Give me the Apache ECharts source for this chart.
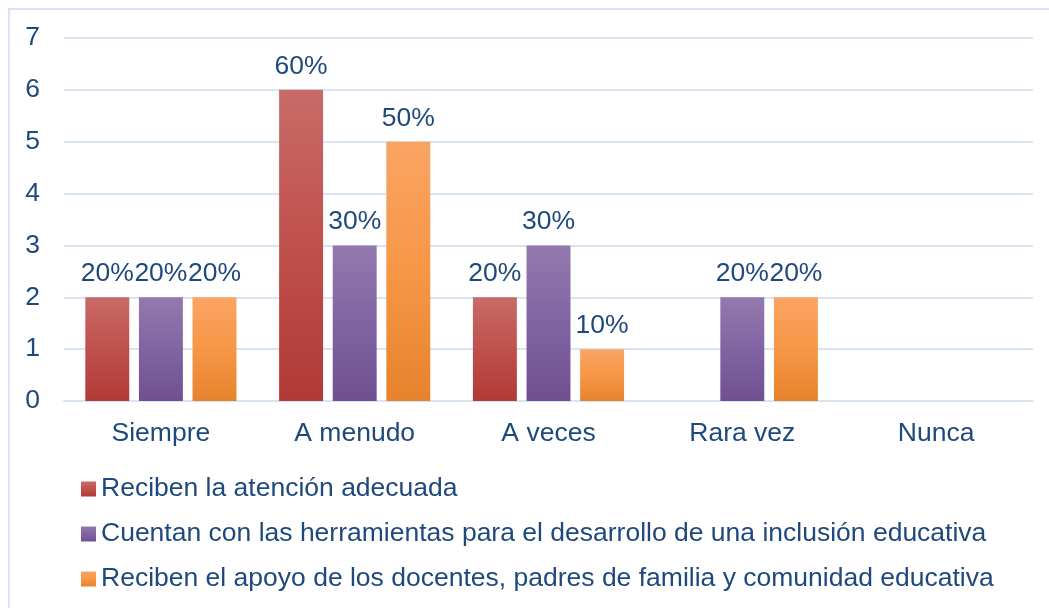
<!DOCTYPE html>
<html>
<head>
<meta charset="utf-8">
<script src="https://cdn.jsdelivr.net/npm/echarts@6/dist/echarts.min.js"></script>
<style>
  html, body { margin: 0; padding: 0; background: #fff; }
  #chart { width: 1049px; height: 608px; }
</style>
</head>
<body>
<div id="chart"></div>
<script>
// categorías y valores (conteos), etiqueta = valor * 10 %
const categories = ['Siempre', 'A menudo', 'A veces', 'Rara vez', 'Nunca'];
const seriesNames = [
  'Reciben la atención adecuada',
  'Cuentan con las herramientas para el desarrollo de una inclusión educativa',
  'Reciben el apoyo de los docentes, padres de familia y comunidad educativa'
];
const atencion = [2, 6, 2, 0, 0];
const herramientas = [2, 3, 3, 2, 0];
const apoyo = [2, 5, 1, 2, 0];
const yTicks = [0, 1, 2, 3, 4, 5, 6, 7];

const textColor = '#1F497D';
const lineColor = '#D9E4F3';
const font = 'Liberation Sans, Arial, sans-serif';
const fs = 26.5;

// gradiente vertical estilo Office
function grad(top, mid, bottom) {
  return new echarts.graphic.LinearGradient(0, 0, 0, 1, [
    { offset: 0, color: top },
    { offset: 0.5, color: mid },
    { offset: 1, color: bottom }
  ]);
}

const colors = [
  grad('#C86B68', '#C0504D', '#B13936'),
  grad('#9379AD', '#8064A2', '#704F91'),
  grad('#FAA464', '#F79646', '#E5832D')
];

function makeSeries(name, data, color) {
  return {
    name: name,
    type: 'bar',
    data: data,
    barGap: '22%',
    barCategoryGap: '22%',
    itemStyle: { color: color },
    label: {
      show: true,
      position: 'top',
      distance: 10,
      color: textColor,
      fontSize: fs,
      fontFamily: font,
      formatter: function (p) { return p.value > 0 ? (p.value * 10) + '%' : ''; }
    }
  };
}

const myChart = echarts.init(document.getElementById('chart'));
const option = {
  animation: false,
  backgroundColor: '#fff',
  graphic: [{
    type: 'rect',
    shape: { x: 9, y: 9, width: 1200, height: 800 },
    style: { fill: 'none', stroke: lineColor, lineWidth: 2 },
    silent: true
  }],
  grid: { left: 64, right: 16, top: 38, bottom: 207 },
  legend: {
    orient: 'vertical',
    left: 81,
    top: 474,
    padding: 0,
    icon: 'rect',
    itemWidth: 15,
    itemHeight: 15,
    itemGap: 15,
    data: seriesNames,
    textStyle: { color: textColor, fontSize: fs, fontFamily: font, lineHeight: 30 }
  },
  xAxis: {
    type: 'category',
    data: categories,
    axisLine: { lineStyle: { color: lineColor, width: 2 } },
    axisTick: { show: false },
    axisLabel: { color: textColor, fontSize: fs, fontFamily: font, margin: 19 }
  },
  yAxis: {
    type: 'value',
    min: yTicks[0],
    max: yTicks[yTicks.length - 1],
    interval: 1,
    axisLine: { show: false },
    axisTick: { show: false },
    splitLine: { lineStyle: { color: lineColor, width: 2 } },
    axisLabel: { color: textColor, fontSize: fs, fontFamily: font, margin: 24 }
  },
  series: [
    makeSeries(seriesNames[0], atencion, colors[0]),
    makeSeries(seriesNames[1], herramientas, colors[1]),
    makeSeries(seriesNames[2], apoyo, colors[2])
  ]
};
myChart.setOption(option);
</script>
</body>
</html>
